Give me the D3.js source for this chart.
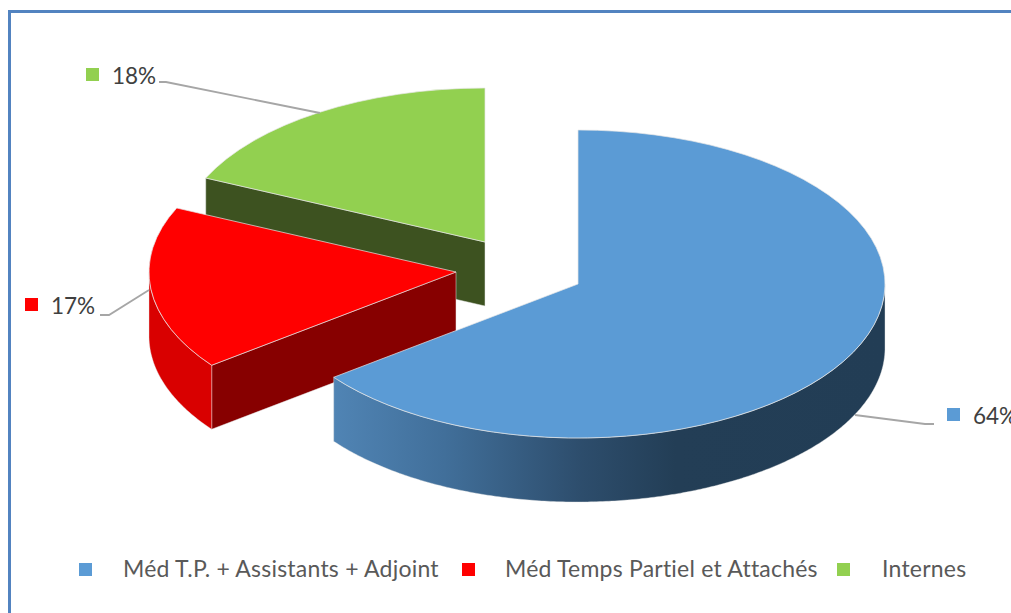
<!DOCTYPE html>
<html>
<head>
<meta charset="utf-8">
<script src="https://cdn.jsdelivr.net/npm/d3@7"></script>
<style>
  html, body { margin: 0; padding: 0; background: #fff; overflow: hidden; }
  text { font-family: Lato, "Open Sans", sans-serif; }
</style>
</head>
<body>
<div id="chart"></div>
<script>
const categories = ["Méd T.P. + Assistants + Adjoint", "Méd Temps Partiel et Attachés", "Internes"];
const values = [64, 17, 18];
const percentLabels = ["64%", "17%", "18%"];
const topColors = ["#5b9bd5", "#ff0000", "#92d050"];
const wallColors = ["url(#blueWall)", "#d90000", "#3d5220"];
const faceColors = ["#223d55", "#870000", "#3d5220"];

// slice centres after the explosion
const centers = [[578, 284], [456, 272], [485, 242]];
const rx = 307, ry = 154, depth = 64;

const width = 1011, height = 613;

const svg = d3.select("#chart").append("svg")
    .attr("width", width)
    .attr("height", height);

const grad = svg.append("defs").append("linearGradient")
    .attr("id", "blueWall")
    .attr("gradientUnits", "userSpaceOnUse")
    .attr("x1", 334).attr("x2", 885)
    .attr("y1", 0).attr("y2", 0);
[[0, "#5084b4"], [0.2, "#416f9a"], [0.45, "#2d4d6c"], [0.62, "#233e56"], [1, "#223d55"]].forEach(s => {
    grad.append("stop").attr("offset", s[0]).attr("stop-color", s[1]);
});

// frame, only left and top sides show
svg.append("path")
    .attr("d", "M9.5,613V11.5H1011")
    .attr("fill", "none")
    .attr("stroke", "#5283c0")
    .attr("stroke-width", 3);

const pie = d3.pie().sort(null).value(d => d);
const arcs = pie(values);

const arc = d3.arc().innerRadius(0).outerRadius(rx);
const ellipseX = (c, a) => c[0] + rx * Math.sin(a);
const ellipseY = (c, a) => c[1] - ry * Math.cos(a);
const line = d3.line();

function wallPath(c, a0, a1) {
    const from = Math.max(a0, Math.PI / 2);
    const to = Math.min(a1, 3 * Math.PI / 2);
    if (from >= to) return null;
    const angles = d3.range(from, to, 0.01).concat([to]);
    const top = angles.map(a => [ellipseX(c, a), ellipseY(c, a)]);
    const bottom = top.map(p => [p[0], p[1] + depth]).reverse();
    return line(top.concat(bottom)) + "Z";
}

function facePath(c, a) {
    const x = ellipseX(c, a), y = ellipseY(c, a);
    return line([[c[0], c[1]], [x, y], [x, y + depth], [c[0], c[1] + depth]]) + "Z";
}

// back slices first: green, red, blue
const order = [2, 1, 0];
const edge = "#e6e6e6";

order.forEach(i => {
    const d = arcs[i], c = centers[i];
    const g = svg.append("g");

    if (d.startAngle > Math.PI) {
        g.append("path")
            .attr("d", facePath(c, d.startAngle))
            .attr("fill", faceColors[i])
            .attr("stroke", edge)
            .attr("stroke-width", 0.5);
    }
    const wall = wallPath(c, d.startAngle, d.endAngle);
    if (wall) {
        g.append("path")
            .attr("d", wall)
            .attr("fill", wallColors[i])
            .attr("stroke", edge)
            .attr("stroke-width", 0.4);
    }
    g.append("path")
        .attr("d", arc(d))
        .attr("transform", `translate(${c[0]},${c[1]}) scale(1,${ry / rx})`)
        .attr("fill", topColors[i])
        .attr("stroke", edge)
        .attr("stroke-width", 0.7)
        .attr("vector-effect", "non-scaling-stroke");
});

// leader lines
const leaders = [
    [[855, 415], [925, 424], [934, 424]],
    [[149, 290], [109, 315], [100, 315]],
    [[320, 113], [166, 82], [159, 82]]
];
leaders.forEach(l => {
    svg.append("path")
        .attr("d", line(l))
        .attr("fill", "none")
        .attr("stroke", "#a6a6a6")
        .attr("stroke-width", 1.8);
});

// data labels with their colour key
const labelPos = [[947, 408, 973, 424], [25, 298, 51, 314], [86, 68, 112, 84]];
percentLabels.forEach((t, i) => {
    const p = labelPos[i];
    svg.append("rect")
        .attr("x", p[0]).attr("y", p[1])
        .attr("width", 13).attr("height", 13)
        .attr("fill", topColors[i]);
    svg.append("text")
        .attr("x", p[2]).attr("y", p[3])
        .attr("font-size", 22.5)
        .attr("fill", "#404040")
        .text(t);
});

// legend
const legendPos = [[79, 123], [462, 505], [837, 882]];
categories.forEach((t, i) => {
    const p = legendPos[i];
    svg.append("rect")
        .attr("x", p[0]).attr("y", 563)
        .attr("width", 13).attr("height", 13)
        .attr("fill", topColors[i]);
    svg.append("text")
        .attr("x", p[1]).attr("y", 577)
        .attr("font-size", 23)
        .attr("letter-spacing", 0.22)
        .attr("fill", "#595959")
        .text(t);
});
</script>
</body>
</html>
